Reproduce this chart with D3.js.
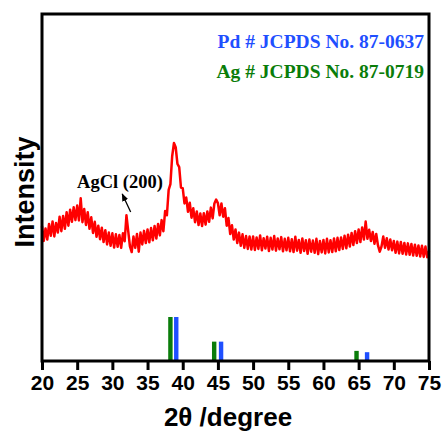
<!DOCTYPE html>
<html>
<head>
<meta charset="utf-8">
<script src="https://cdn.jsdelivr.net/npm/d3@7"></script>
<style>
  body { margin: 0; background: #fff; }
  svg { display: block; }
</style>
</head>
<body>
<svg id="chart" width="443" height="434"></svg>
<script>
"use strict";
// XRD pattern, 20-75 deg, one value every 0.25 deg (a.u.)
var startAngle = 20, stepAngle = 0.25;
var intensity = [
  38.9, 34.6, 38.2, 35.0, 39.5, 36.1, 40.2, 35.9, 39.8, 37.0, 41.6, 37.4, 41.8, 38.1, 42.9, 39.0, 43.6, 40.1, 44.3, 40.6,
  44.8, 40.5, 46.9, 40.0, 43.8, 39.2, 42.9, 38.1, 41.4, 36.9, 40.1, 35.8, 39.0, 35.1, 38.4, 34.3, 37.7, 33.6, 37.0, 33.2,
  36.8, 32.7, 36.5, 32.9, 36.3, 32.6, 36.8, 34.5, 42.0, 37.5, 33.0, 31.4, 35.9, 32.6, 36.6, 31.5, 37.0, 33.6, 37.5, 34.0,
  37.9, 34.2, 38.3, 34.8, 38.9, 35.3, 39.5, 36.2, 40.6, 37.4, 43.2, 42.0, 49.3, 51.0, 59.0, 62.8, 61.6, 56.8, 55.9, 50.0,
  49.8, 45.4, 47.1, 43.0, 45.6, 41.3, 44.0, 40.0, 43.1, 39.2, 42.5, 38.9, 42.6, 39.3, 43.1, 40.1, 44.2, 41.1, 45.4, 46.5,
  45.5, 42.0, 45.4, 41.6, 44.0, 39.0, 41.2, 36.6, 39.1, 35.0, 37.9, 34.0, 37.0, 33.2, 36.5, 32.6, 36.0, 32.3, 35.9, 32.1,
  35.9, 32.0, 35.6, 32.3, 36.2, 31.9, 35.4, 32.4, 35.8, 31.7, 35.5, 32.1, 36.0, 31.8, 35.3, 32.2, 35.7, 31.6, 35.2, 31.9,
  35.5, 31.6, 35.1, 31.4, 35.8, 31.8, 34.9, 31.2, 35.3, 31.7, 34.8, 30.9, 35.0, 31.5, 34.7, 31.2, 35.2, 30.8, 34.6, 31.3,
  34.9, 31.0, 35.2, 31.3, 34.8, 31.4, 35.3, 31.6, 35.5, 32.0, 35.6, 32.3, 36.1, 32.5, 36.4, 33.0, 36.9, 33.4, 37.4, 34.0,
  37.9, 34.3, 38.5, 35.0, 40.2, 35.2, 37.8, 34.6, 37.2, 33.8, 36.6, 33.3, 31.5, 33.0, 35.9, 32.6, 35.4, 32.1, 35.0, 31.9,
  34.6, 31.2, 34.4, 31.0, 34.3, 30.9, 34.0, 30.7, 33.9, 30.6, 33.7, 30.4, 33.5, 30.3, 33.3, 30.1, 33.2, 30.0, 33.0, 29.9, 31.7
];

// standard reference lines (relative intensity)
var pdAngles = [39.08, 45.45, 66.2];
var pdRel = [100, 44, 20];
var agAngles = [38.25, 44.47, 64.7];
var agRel = [100, 44, 23];

var xTicks = [20, 25, 30, 35, 40, 45, 50, 55, 60, 65, 70, 75];

var margin = {left: 42, right: 14, top: 14, bottom: 73};
var W = 443, H = 434;
var svg = d3.select("#chart");
var pw = W - margin.left - margin.right, ph = H - margin.top - margin.bottom;

var x = d3.scaleLinear().domain([20, 75]).range([margin.left, margin.left + pw]);
var y = d3.scaleLinear().domain([0, 100]).range([margin.top + ph, margin.top]);
var yRef = d3.scaleLinear().domain([0, 100]).range([margin.top + ph, margin.top + ph - 44]);

var pts = intensity.map((v, i) => [startAngle + i * stepAngle, v]);

svg.append("path")
  .datum(pts)
  .attr("fill", "none")
  .attr("stroke", "#ff0000")
  .attr("stroke-width", 2.5)
  .attr("stroke-linejoin", "round")
  .attr("d", d3.line().x(d => x(d[0])).y(d => y(d[1])));

// reference sticks
function sticks(angles, rel, color) {
  svg.append("g").selectAll("rect")
    .data(angles)
    .enter()
    .append("rect")
    .attr("x", d => x(d) - 2.2)
    .attr("width", 4.4)
    .attr("y", (d, i) => yRef(rel[i]))
    .attr("height", (d, i) => yRef(0) - yRef(rel[i]))
    .attr("fill", color);
}
sticks(agAngles, agRel, "#0a7d0a");
sticks(pdAngles, pdRel, "#1f4fff");

// frame
svg.append("rect")
  .attr("x", margin.left).attr("y", margin.top)
  .attr("width", pw).attr("height", ph)
  .attr("fill", "none").attr("stroke", "#000").attr("stroke-width", 3);

var xAxis = svg.append("g")
  .attr("transform", "translate(0," + (margin.top + ph) + ")")
  .call(d3.axisBottom(x).tickValues(xTicks).tickSize(9).tickPadding(5).tickFormat(d3.format("d")));
xAxis.select(".domain").remove();
xAxis.selectAll("line").attr("stroke", "#000").attr("stroke-width", 3);
xAxis.selectAll("text")
  .attr("font-family", "Liberation Sans, Arial, sans-serif")
  .attr("font-weight", "bold")
  .attr("font-size", 21)
  .attr("fill", "#000");

svg.append("text")
  .attr("x", 228).attr("y", 426)
  .attr("text-anchor", "middle")
  .attr("font-family", "Liberation Sans, Arial, sans-serif")
  .attr("font-weight", "bold")
  .attr("font-size", 26)
  .text("2θ /degree");

svg.append("text")
  .attr("transform", "translate(34,192) rotate(-90)")
  .attr("text-anchor", "middle")
  .attr("font-family", "Liberation Sans, Arial, sans-serif")
  .attr("font-weight", "bold")
  .attr("font-size", 27)
  .text("Intensity");

// legend
var serif = "Liberation Serif, Times New Roman, serif";
svg.append("text")
  .attr("x", 424).attr("y", 48)
  .attr("text-anchor", "end")
  .attr("font-family", serif).attr("font-weight", "bold").attr("font-size", 19.5)
  .attr("fill", "#1f4fff")
  .text("Pd # JCPDS No. 87-0637");
svg.append("text")
  .attr("x", 424).attr("y", 78)
  .attr("text-anchor", "end")
  .attr("font-family", serif).attr("font-weight", "bold").attr("font-size", 19.5)
  .attr("fill", "#0a7d0a")
  .text("Ag # JCPDS No. 87-0719");

// AgCl annotation
svg.append("defs").append("marker")
  .attr("id", "arr")
  .attr("viewBox", "0 0 10 10")
  .attr("refX", 9).attr("refY", 5)
  .attr("markerWidth", 6).attr("markerHeight", 6)
  .attr("orient", "auto")
  .append("path").attr("d", "M0,1L10,5L0,9Z").attr("fill", "#000");
svg.append("line")
  .attr("x1", x(32.6)).attr("y1", 212)
  .attr("x2", x(31.4)).attr("y2", 194)
  .attr("stroke", "#000").attr("stroke-width", 1.3)
  .attr("marker-end", "url(#arr)");
svg.append("text")
  .attr("x", 120).attr("y", 188)
  .attr("text-anchor", "middle")
  .attr("font-family", serif).attr("font-weight", "bold").attr("font-size", 18.5)
  .text("AgCl (200)");
</script>
</body>
</html>
